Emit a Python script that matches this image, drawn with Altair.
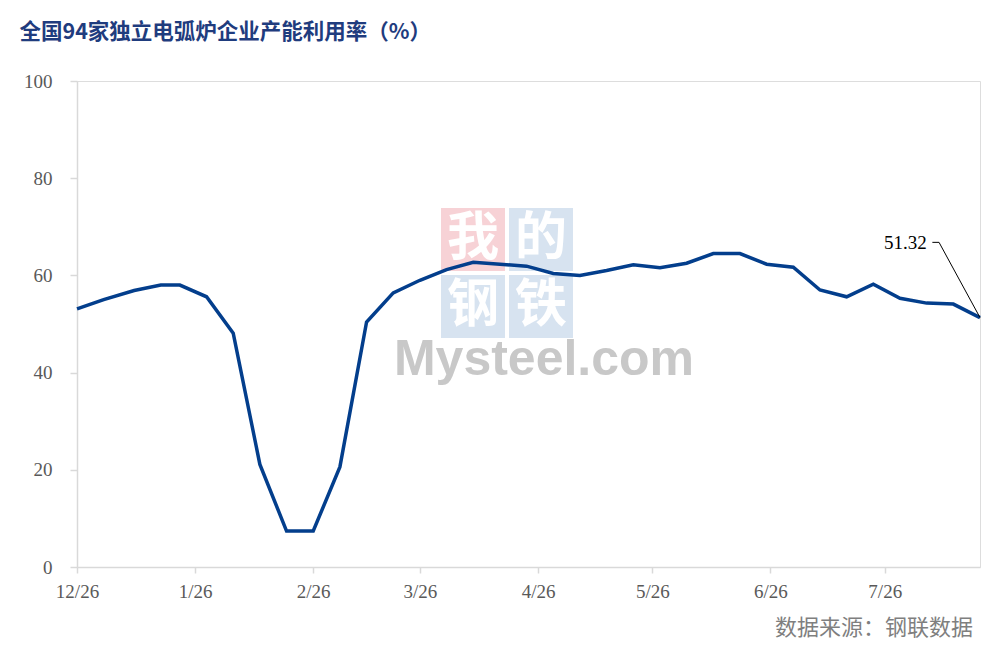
import altair as alt
import pandas as pd

# ---- data ----
dates = ["2025-12-26", "2026-01-02", "2026-01-10", "2026-01-17", "2026-01-22", "2026-01-29",
         "2026-02-05", "2026-02-12", "2026-02-19", "2026-02-26", "2026-03-05", "2026-03-12",
         "2026-03-19", "2026-03-26", "2026-04-02", "2026-04-09", "2026-04-16", "2026-04-23",
         "2026-04-30", "2026-05-07", "2026-05-14", "2026-05-21", "2026-05-28", "2026-06-04",
         "2026-06-11", "2026-06-18", "2026-06-25", "2026-07-02", "2026-07-09", "2026-07-16",
         "2026-07-23", "2026-07-30", "2026-08-06", "2026-08-13", "2026-08-20"]
values = [53.1, 55.0, 56.9, 58.0, 58.0, 55.6,
          48.1, 21.1, 7.4, 7.4, 20.6, 50.4,
          56.4, 59.0, 61.2, 62.7, 62.3, 61.9,
          60.4, 60.0, 61.0, 62.2, 61.6, 62.5,
          64.5, 64.5, 62.3, 61.7, 57.0, 55.6,
          58.2, 55.3, 54.3, 54.1, 51.32]
tick_dates = ["2025-12-26", "2026-01-26", "2026-02-26", "2026-03-26",
              "2026-04-26", "2026-05-26", "2026-06-26", "2026-07-26"]
y_ticks = [0, 20, 40, 60, 80, 100]
last_label = "51.32"
title_text = "全国94家独立电弧炉企业产能利用率（%）"
source_text = "数据来源：钢联数据"

# annotation anchor (label position and leader line), in data space
label_pos = ("2026-08-06T00:00:00Z", 66.6)
leader_dates = ["2026-08-07T12:00:00Z", "2026-08-09T06:00:00Z", "2026-08-20T00:00:00Z"]
leader_vals = [66.8, 66.8, 51.32]

W, H = 903, 486
LINE_COLOR = "#033E8C"


def dt(s):
    y, m, d = map(int, s.split("-"))
    return alt.DateTime(year=y, month=m, date=d, utc=True)


df = pd.DataFrame({"date": [d + "T00:00:00Z" for d in dates], "value": values})
ann_df = pd.DataFrame({"date": [label_pos[0]], "value": [label_pos[1]], "label": [last_label]})
lead_df = pd.DataFrame({"date": leader_dates, "value": leader_vals, "o": [0, 1, 2]})
one = pd.DataFrame({"k": [0]})

x_scale = alt.Scale(type="utc", domain=[dt(dates[0]), dt(dates[-1])], nice=False)
y_scale = alt.Scale(domain=[0, 100], nice=False)

x_axis = alt.Axis(values=[dt(t) for t in tick_dates],
                  labelExpr="utcFormat(datum.value, '%-m/%d')",
                  grid=False, domainColor="#D9D9D9", domainWidth=1.5,
                  tickColor="#D9D9D9", tickWidth=1.5, tickSize=6,
                  labelPadding=9, labelFont="Liberation Serif", labelFontSize=19,
                  labelColor="#595959", title=None, labelFlush=False)
y_axis = alt.Axis(values=y_ticks, grid=False, domainColor="#D9D9D9", domainWidth=1.5,
                  tickColor="#D9D9D9", tickWidth=1.5, tickSize=7,
                  labelPadding=18, labelFont="Liberation Serif", labelFontSize=19,
                  labelColor="#595959", title=None)

# ---- watermark ----
def square(x0, y0, color):
    return alt.Chart(one).mark_rect(color=color, opacity=0.75).encode(
        x=alt.value(x0), x2=alt.value(x0 + 64), y=alt.value(y0), y2=alt.value(y0 + 63))


def wm_char(ch, cx, cy):
    return alt.Chart(one).mark_text(font="Noto Sans CJK SC", fontSize=52, fontWeight="bold",
                                    color="white", align="center", baseline="middle").encode(
        x=alt.value(cx), y=alt.value(cy), text=alt.value(ch))


wm = [
    square(364, 127, "#F4C3C8"), square(432, 127, "#C9DAEB"),
    square(364, 194, "#C9DAEB"), square(432, 194, "#C9DAEB"),
    wm_char("我", 396, 158), wm_char("的", 464, 158),
    wm_char("钢", 396, 225), wm_char("铁", 464, 225),
    alt.Chart(one).mark_text(font="Liberation Sans", fontSize=50,
                             fontWeight="bold", color="#C8C8C8", align="center",
                             baseline="alphabetic").encode(
        x=alt.value(467), y=alt.value(294), text=alt.value("Mysteel.com")),
]

line = alt.Chart(df).mark_line(color=LINE_COLOR, strokeWidth=3.5, strokeJoin="miter").encode(
    x=alt.X("date:T", scale=x_scale, axis=x_axis),
    y=alt.Y("value:Q", scale=y_scale, axis=y_axis),
)

leader = alt.Chart(lead_df).mark_line(color="black", strokeWidth=1).encode(
    x=alt.X("date:T", scale=x_scale), y=alt.Y("value:Q", scale=y_scale), order="o:Q")

label = alt.Chart(ann_df).mark_text(font="Liberation Serif", fontSize=19, color="black",
                                    align="right", baseline="middle").encode(
    x=alt.X("date:T", scale=x_scale), y=alt.Y("value:Q", scale=y_scale), text="label:N")

source = alt.Chart(one).mark_text(font="Noto Sans CJK SC", fontSize=22, color="#7F7F7F",
                                  align="right", baseline="middle").encode(
    x=alt.value(896), y=alt.value(547), text=alt.value(source_text))

chart = alt.layer(*wm, line, leader, label, source).properties(
    width=W, height=H,
    title=alt.TitleParams(title_text, anchor="start", dx=-4, offset=29,
                          font="Noto Sans CJK SC", fontSize=21.5, fontWeight="bold",
                          color="#1F3C7E"),
    autosize=alt.AutoSizeParams(type="none"),
    padding={"left": 69, "top": 73, "right": 15, "bottom": 80},
).configure_view(stroke=None).configure(background="white")

chart.save("out.html", embed_options={"renderer": "svg", "actions": False})
